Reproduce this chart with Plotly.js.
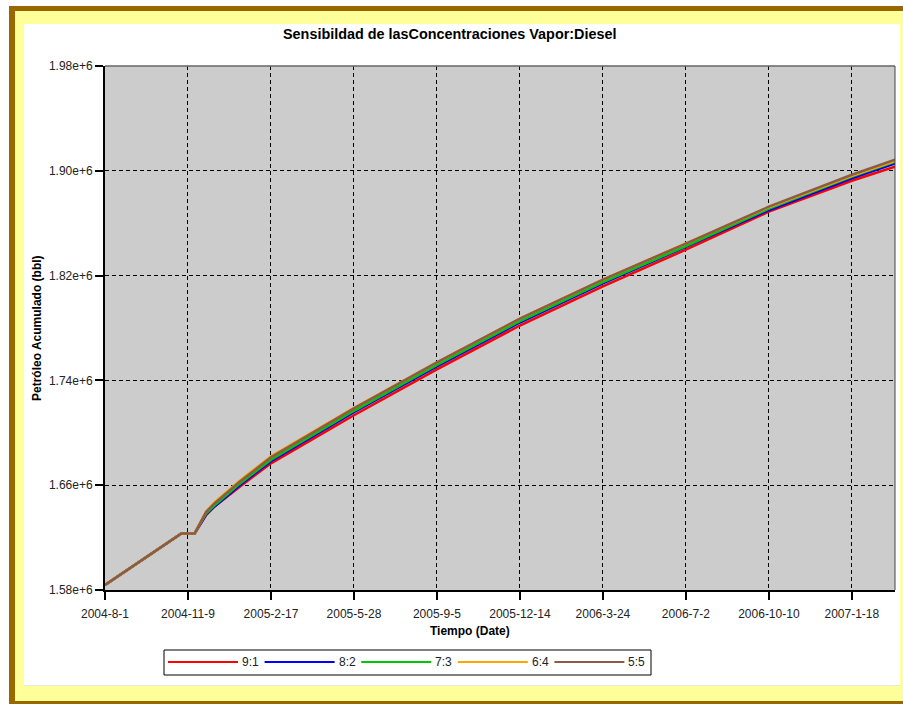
<!DOCTYPE html>
<html><head><meta charset="utf-8">
<script src="https://cdn.plot.ly/plotly-3.0.1.min.js"></script>
<style>
html,body{margin:0;padding:0;width:903px;height:704px;overflow:hidden;background:#fff;}
#brown{position:absolute;left:9px;top:6px;width:920px;height:698px;background:#996600;}
#yellow{position:absolute;left:15px;top:11px;width:910px;height:690px;background:#FFFF99;}
#white{position:absolute;left:24px;top:24px;width:876px;height:661px;background:#fff;border-bottom:1px solid #e6e6e6;}
#chart{position:absolute;left:0;top:0;width:903px;height:704px;}
</style></head>
<body>
<div id="brown"></div><div id="yellow"></div><div id="white"></div>
<div id="chart"></div>
<script>
const dates = ['2004-08-01','2004-11-01','2004-11-17','2004-11-23','2004-12-01','2004-12-11','2004-12-25','2005-01-10','2005-02-17','2005-05-28','2005-09-05','2005-12-14','2006-03-24','2006-07-02','2006-10-10','2007-01-18','2007-03-11'];
const s91 = [1583800,1623200,1623200,1629300,1637400,1643800,1650700,1658700,1676700,1713400,1748400,1781900,1811700,1839800,1868800,1892400,1903100];
const s82 = [1583800,1623200,1623200,1629300,1637800,1643800,1651400,1659800,1678300,1715700,1750700,1784200,1814000,1841700,1869900,1894300,1905700];
const s73 = [1583800,1623200,1623200,1630000,1638600,1644600,1652200,1661000,1679400,1716800,1751800,1785300,1815100,1842500,1871100,1895500,1906900];
const s64 = [1583800,1623200,1623200,1630800,1640100,1646900,1654500,1663300,1682100,1719100,1753700,1787200,1817000,1844400,1872200,1896200,1907600];
const s55 = [1583800,1623200,1623200,1630800,1639700,1646100,1653700,1662500,1681300,1718700,1753700,1787200,1817000,1844400,1872600,1897000,1908400];
const seriesNames = ['9:1','8:2','7:3','6:4','5:5'];
const seriesValues = [s91,s82,s73,s64,s55];
const colors = ['#FF0000','#0000FF','#00C800','#FFA500','#8C5A46'];
const xTickVals = ['2004-08-01','2004-11-09','2005-02-17','2005-05-28','2005-09-05','2005-12-14','2006-03-24','2006-07-02','2006-10-10','2007-01-18'];
const xTickText = ['2004-8-1','2004-11-9','2005-2-17','2005-5-28','2005-9-5','2005-12-14','2006-3-24','2006-7-2','2006-10-10','2007-1-18'];
const yTickVals = [1580000,1660000,1740000,1820000,1900000,1980000];
const yTickText = ['1.58e+6','1.66e+6','1.74e+6','1.82e+6','1.90e+6','1.98e+6'];
const titleText = 'Sensibildad de lasConcentraciones Vapor:Diesel';
const xTitle = 'Tiempo (Date)';
const yTitle = 'Petróleo Acumulado (bbl)';

const W = 903, H = 704, L = 105, R = 8, T = 66, B = 114;
const PW = W - L - R, PH = H - T - B;
const fx = px => (px - L) / PW;
const fy = py => (H - B - py) / PH;
const FONT = '"Liberation Sans", Arial, sans-serif';

const traces = seriesNames.map((n, i) => ({
  x: dates, y: seriesValues[i], name: n, type: 'scatter', mode: 'lines',
  line: {color: colors[i], width: 2.5}, showlegend: false, hoverinfo: 'skip'
}));

const shapes = [
  {type:'line', xref:'paper', yref:'paper', x0:0, x1:1, y0:1, y1:1, line:{color:'#666', width:1.5}},
  {type:'line', xref:'paper', yref:'paper', x0:1, x1:1, y0:0, y1:1, line:{color:'#444', width:1}},
  {type:'rect', xref:'paper', yref:'paper', x0:fx(164), x1:fx(651), y0:fy(650), y1:fy(675), line:{color:'#000', width:1}, fillcolor:'#fff'}
];
const annotations = [
  {text: titleText, xref:'paper', yref:'paper', x: fx(450), y: fy(34), showarrow:false, xanchor:'center', yanchor:'middle', font:{family:FONT, size:14.4, color:'#000', weight:'bold'}},
  {text: xTitle, xref:'paper', yref:'paper', x: fx(470), y: fy(631), showarrow:false, xanchor:'center', yanchor:'middle', font:{family:FONT, size:12, color:'#000', weight:'bold'}},
  {text: yTitle, xref:'paper', yref:'paper', x: fx(37), y: fy(328), showarrow:false, xanchor:'center', yanchor:'middle', textangle:-90, font:{family:FONT, size:12, color:'#000', weight:'bold'}}
];
seriesNames.forEach((n, i) => {
  const x0 = 168 + 96.6 * i;
  shapes.push({type:'line', xref:'paper', yref:'paper', x0: fx(x0), x1: fx(x0 + 70), y0: fy(662), y1: fy(662), line:{color: colors[i], width: 2}});
  annotations.push({text: n, xref:'paper', yref:'paper', x: fx(x0 + 73), y: fy(662), showarrow:false, xanchor:'left', yanchor:'middle', borderpad:0, font:{family:FONT, size:12, color:'#222'}});
});

const layout = {
  width: W, height: H,
  margin: {l: L, r: R, t: T, b: B, pad: 0},
  paper_bgcolor: 'rgba(0,0,0,0)',
  plot_bgcolor: '#CCCCCC',
  showlegend: false,
  font: {family: FONT, size: 12, color: '#222'},
  xaxis: {
    type: 'date', range: ['2004-08-01', '2007-03-11'],
    tickmode: 'array', tickvals: xTickVals, ticktext: xTickText,
    ticks: 'outside', ticklen: 8, tickwidth: 2, tickcolor: '#000', ticklabelstandoff: 4,
    showline: true, linecolor: '#000', linewidth: 2,
    showgrid: true, gridcolor: '#000', gridwidth: 1, griddash: '4px,3px',
    zeroline: false, tickfont: {family: FONT, size: 12, color: '#222'}
  },
  yaxis: {
    range: [1580000, 1980000],
    tickmode: 'array', tickvals: yTickVals, ticktext: yTickText,
    ticks: 'outside', ticklen: 8, tickwidth: 2, tickcolor: '#000',
    showline: true, linecolor: '#000', linewidth: 2,
    showgrid: true, gridcolor: '#000', gridwidth: 1, griddash: '4px,3px',
    zeroline: false, tickfont: {family: FONT, size: 12, color: '#222'}
  },
  shapes: shapes,
  annotations: annotations
};
Plotly.newPlot('chart', traces, layout, {staticPlot: true, displayModeBar: false});
</script>
</body></html>
